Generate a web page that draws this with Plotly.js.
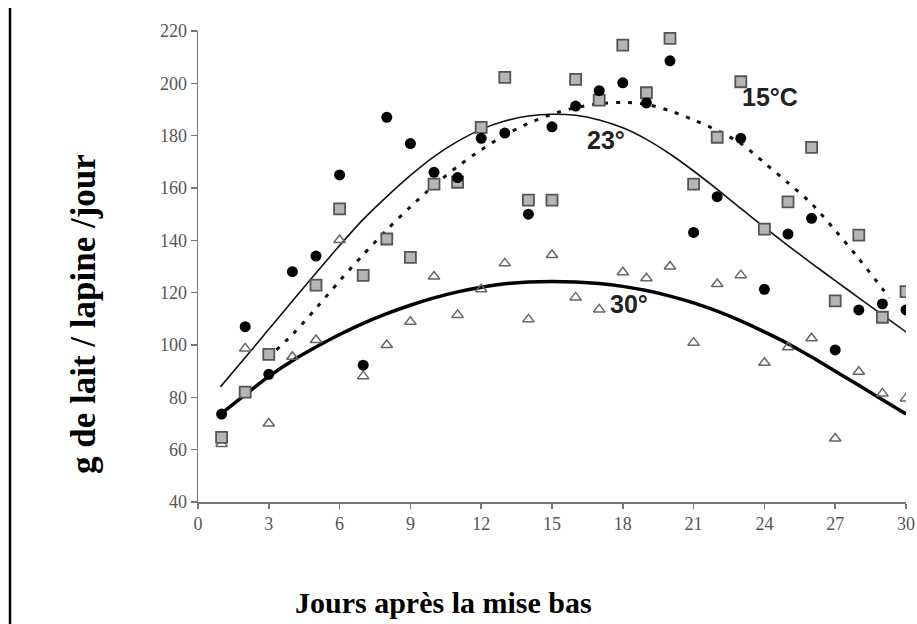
<!DOCTYPE html>
<html>
<head>
<meta charset="utf-8">
<script src="https://cdn.plot.ly/plotly-3.0.1.min.js"></script>
<style>html,body{margin:0;padding:0;background:#fff;}#chart{width:917px;height:624px;}</style>
</head>
<body>
<div id="chart"></div>
<script>
// Observed daily milk yield (g / rabbit doe / day), days 1..30
const days = [1,2,3,4,5,6,7,8,9,10,11,12,13,14,15,16,17,18,19,20,21,22,23,24,25,26,27,28,29,30];
const circleDays = days;
const circleVals = [73.6,107,88.8,128,134,165,92.3,187,177,166,164,179,181,150,183.4,191.3,197.2,200.2,192.5,208.6,143,156.7,179,121.3,142.4,148.4,98.1,113.4,115.7,113.4];
const squareDays = [1,2,3,5,6,7,8,9,10,11,12,13,14,15,16,17,18,19,20,21,22,23,24,25,26,27,28,29,30];
const squareVals = [64.7,82,96.4,122.9,152,126.6,140.5,133.5,161.5,162.2,183.2,202.3,155.4,155.4,201.5,193.6,214.6,196.4,217.2,161.5,179.4,200.6,144.3,154.7,175.5,116.9,142,110.6,120.4];
const triDays = days;
const triVals = [62.2,98.7,70,95.5,101.9,140.1,88.1,100,108.9,126.2,111.5,121.3,131.2,109.8,134.4,118.2,113.6,127.8,125.5,130,100.9,123.3,126.7,93.2,99.1,102.6,64.3,89.8,81.5,79.6];

// Fitted curves
const c15Days = [2.95,4,5,6,7,8,9,10,11,12,13,14,15,16,17,18,19,20,21,22,23,24,25,26,27,28,29,29.3];
const c15Vals = [95,104,114,124.5,134.5,144,152.8,161,168.2,174.6,180.2,184.7,188.2,190.7,192.2,192.7,192,189.5,186,182,177,169.6,162,154,143.8,133,121.5,118];
const c23Days = [0.95,2,3,4,5,6,7,8,9,10,11,12,13,14,15,16,17,18,19,20,21,22,23,24,25,26,27,28,29,30];
const c23Vals = [84,95.2,106,116.8,127.5,138,148,156.7,164.8,172,177.8,182.4,185.6,187.5,188.2,187.8,186,183,178.6,173,166.5,159.5,152.2,145,138,131.2,124.6,118,111.5,105];
const c30Days = [0.95,2,3,4,5,6,7,8,9,10,11,12,13,14,15,16,17,18,19,20,21,22,23,24,25,26,27,28,29,30];
const c30Vals = [73.5,81,88,94,99.2,104,108.3,112,115.2,118,120.3,122.1,123.4,124.1,124.3,124.1,123.5,122.4,120.8,118.7,116.1,112.9,109.2,105,100.5,95.4,90,84.6,79.1,73.6];

const curveLabels = ["15°C","23°","30°"];
const labelX = [24.25, 17.3, 18.25];
const labelY = [194.8, 178.3, 115.8];

const xTitle = "Jours après la mise bas";
const yTitle = "g de lait / lapine /jour";

const traces = [
  {x:c23Days, y:c23Vals, mode:'lines', line:{color:'#111', width:1.6, shape:'spline', smoothing:0.8}, hoverinfo:'skip'},
  {x:c15Days, y:c15Vals, mode:'lines', line:{color:'#111', width:3, dash:'4px,8px', shape:'spline', smoothing:0.8}, hoverinfo:'skip'},
  {x:c30Days, y:c30Vals, mode:'lines', line:{color:'#000', width:3.5, shape:'spline', smoothing:0.8}, hoverinfo:'skip'},
  {x:triDays, y:triVals, mode:'markers', marker:{symbol:'triangle-up-open', size:10, color:'#666', line:{width:1.5, color:'#666'}}},
  {x:squareDays, y:squareVals, mode:'markers', marker:{symbol:'square', size:11, color:'#b5b5b5', line:{width:1.8, color:'#555'}}},
  {x:circleDays, y:circleVals, mode:'markers', marker:{symbol:'circle', size:11, color:'#000', line:{width:0}}}
];

const axisFont = {family:'"Liberation Serif", "DejaVu Serif", serif', size:18, color:'#555'};

const layout = {
  width:917, height:624,
  margin:{l:198, r:11, t:31, b:122},
  paper_bgcolor:'#fff', plot_bgcolor:'#fff',
  showlegend:false,
  xaxis:{range:[0,30], tickvals:[0,3,6,9,12,15,18,21,24,27,30], ticks:'outside', ticklen:5, tickwidth:1.5, tickcolor:'#777',
         showline:true, linecolor:'#777', linewidth:1.5, showgrid:false, zeroline:false, tickfont:axisFont},
  yaxis:{range:[40,220], dtick:20, tick0:40, ticks:'outside', ticklen:6, tickwidth:1.5, tickcolor:'#777',
         showline:true, linecolor:'#777', linewidth:1.5, showgrid:false, zeroline:false, tickfont:axisFont},
  annotations:[
    {text:xTitle, xref:'paper', yref:'paper', x:(443-198)/708, y:(502-602)/471, showarrow:false, xanchor:'center', yanchor:'middle',
     font:{family:'"Liberation Serif", serif', size:30, color:'#000', weight:'bold'}},
    {text:yTitle, xref:'paper', yref:'paper', x:(83-198)/708, y:(502-314)/471, showarrow:false, textangle:-90, xanchor:'center', yanchor:'middle',
     font:{family:'"Liberation Serif", serif', size:35, color:'#000', weight:'bold'}},
    ...curveLabels.map((t,i)=>({text:'<b>'+t+'</b>', x:labelX[i], y:labelY[i], xref:'x', yref:'y', showarrow:false,
      font:{family:'"Liberation Sans", Arial, sans-serif', size:25, color:'#222'}}))
  ],
  shapes:[
    {type:'line', xref:'paper', yref:'paper', x0:(10-198)/708, x1:(10-198)/708, y0:(502-624)/471, y1:(502-8)/471,
     line:{color:'#000', width:2.5}}
  ]
};

Plotly.newPlot('chart', traces, layout, {staticPlot:true, displayModeBar:false});
</script>
</body>
</html>
